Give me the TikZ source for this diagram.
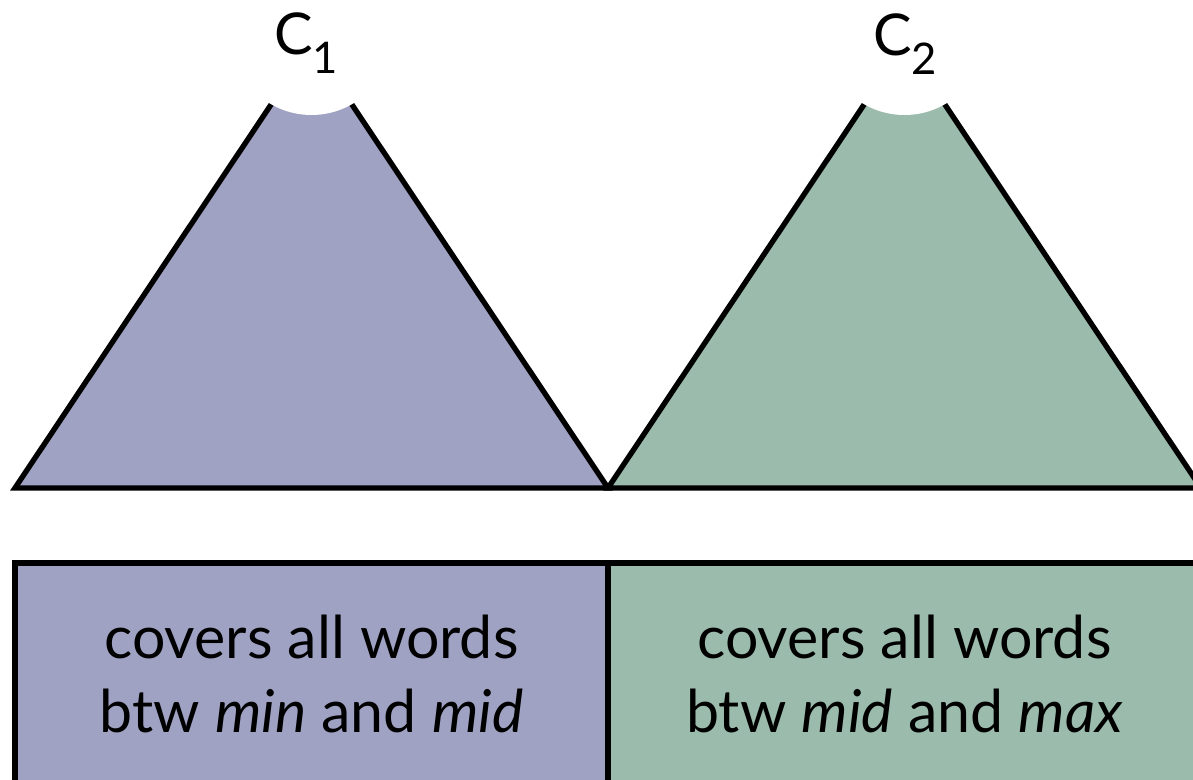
\documentclass[tikz,border=0pt]{standalone}
\usepackage{fontspec}
\setmainfont{Lato}
\definecolor{lilac}{RGB}{160,162,195}
\definecolor{sage}{RGB}{155,187,172}
\newcommand{\sublab}[1]{\raisebox{-13.5pt}{\fontsize{31pt}{31pt}\selectfont #1}}

\begin{document}
\begin{tikzpicture}[x=0.025cm,y=-0.025cm,line width=3.8pt,
  cut/.style={circle,fill=white,minimum size=162*0.025cm,inner sep=0pt},
  lab/.style={anchor=base,font=\fontsize{41pt}{48pt}\selectfont},
  words/.style={align=center,font=\fontsize{42pt}{52pt}\selectfont}]
\clip (0,0) rectangle (1193,780);
\useasboundingbox (0,0) rectangle (1193,780);
\draw [fill=lilac] (15,488) -- (311.5,44) -- (608,488) -- cycle;
\draw [fill=sage] (608,488) -- (904.5,44) -- (1201,488) -- cycle;
\node[cut] (cut1) at (311.5,34) {};
\node[cut] (cut2) at (904.5,34) {};
\node[lab] (C1) at (306,55) {C\sublab{1}};
\node[lab] (C2) at (905,56) {C\sublab{2}};

\draw [fill=lilac] (15,563) rectangle node[words] (w1) {covers all words\\btw \textit{min} and \textit{mid}} (608,785);
\draw [fill=sage] (608,563) rectangle node[words] (w2) {covers all words\\btw \textit{mid} and \textit{max}} (1201,785);
\end{tikzpicture}
\end{document}
